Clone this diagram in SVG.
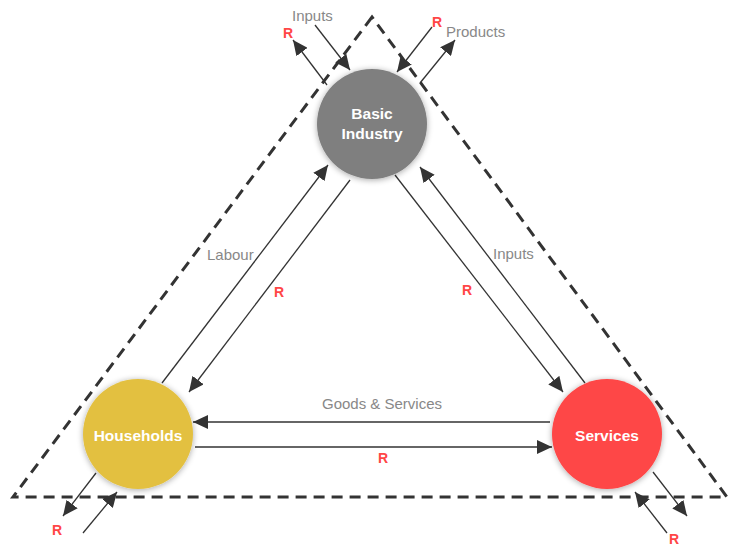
<svg xmlns="http://www.w3.org/2000/svg" width="729" height="547" viewBox="0 0 729 547">
<style>
.node-text{font-family:"Liberation Sans",Arial,sans-serif;font-weight:bold;font-size:15.5px;fill:#fff;text-anchor:middle}
.lbl{font-family:"Liberation Sans",Arial,sans-serif;font-size:15px;fill:#888}
.r{font-family:"Liberation Sans",Arial,sans-serif;font-weight:bold;font-size:14px;fill:#ff4646;text-anchor:middle}
.edge{stroke:#333;stroke-width:1.3;fill:none;marker-end:url(#ah)}
.dash{stroke:#333;stroke-width:3;fill:none;stroke-dasharray:11 7}
</style>
<defs>
<marker id="ah" markerUnits="userSpaceOnUse" markerWidth="16" markerHeight="14" refX="15" refY="7" orient="auto">
<path d="M0,0 L15,7 L0,14 z" fill="#333"/>
</marker>
<filter id="sh" x="-30%" y="-30%" width="160%" height="160%">
<feGaussianBlur in="SourceAlpha" stdDeviation="3"/>
<feOffset dx="0" dy="1" result="b"/>
<feComponentTransfer><feFuncA type="linear" slope="0.35"/></feComponentTransfer>
<feMerge><feMergeNode/><feMergeNode in="SourceGraphic"/></feMerge>
</filter>
</defs>
<rect width="729" height="547" fill="#fff"/>
<g id="boundary">
<path class="dash" d="M372,17 L13,497 L727,497 Z"/>
</g>
<g id="connectors">
<line class="edge" x1="315" y1="25" x2="350" y2="70"/>
<line class="edge" x1="327" y1="85" x2="293" y2="40"/>
<line class="edge" x1="432" y1="27" x2="397" y2="72"/>
<line class="edge" x1="420" y1="83" x2="455" y2="40"/>
<line class="edge" x1="162" y1="383" x2="328" y2="165"/>
<line class="edge" x1="350" y1="180" x2="189" y2="392"/>
<line class="edge" x1="395" y1="175" x2="563" y2="392"/>
<line class="edge" x1="585" y1="383" x2="420" y2="167"/>
<line class="edge" x1="550" y1="422" x2="193" y2="422"/>
<line class="edge" x1="195" y1="447" x2="552" y2="447"/>
<line class="edge" x1="96" y1="473" x2="63" y2="516"/>
<line class="edge" x1="83" y1="533" x2="117" y2="492"/>
<line class="edge" x1="653" y1="472" x2="687" y2="516"/>
<line class="edge" x1="667" y1="533" x2="635" y2="492"/>
</g>
<g id="labels">
<text class="lbl" x="292" y="21">Inputs</text>
<text class="r" x="288" y="38">R</text>
<text class="r" x="437" y="27">R</text>
<text class="lbl" x="446" y="37">Products</text>
<text class="lbl" x="207" y="260">Labour</text>
<text class="r" x="279" y="297">R</text>
<text class="lbl" x="493" y="259">Inputs</text>
<text class="r" x="467" y="295">R</text>
<text class="lbl" x="382" y="409" text-anchor="middle">Goods &amp; Services</text>
<text class="r" x="383" y="463">R</text>
<text class="r" x="57" y="535">R</text>
<text class="r" x="674" y="544">R</text>
</g>
<g id="basic-industry">
<circle cx="372" cy="124" r="55" fill="#7f7f7f" filter="url(#sh)"/>
<text class="node-text" x="372" y="119">Basic</text>
<text class="node-text" x="372" y="139">Industry</text>
</g>
<g id="households">
<circle cx="138" cy="434" r="55" fill="#e3c041" filter="url(#sh)"/>
<text class="node-text" x="138" y="441">Households</text>
</g>
<g id="services">
<circle cx="607" cy="434" r="55" fill="#fe4646" filter="url(#sh)"/>
<text class="node-text" x="607" y="441">Services</text>
</g>
</svg>
